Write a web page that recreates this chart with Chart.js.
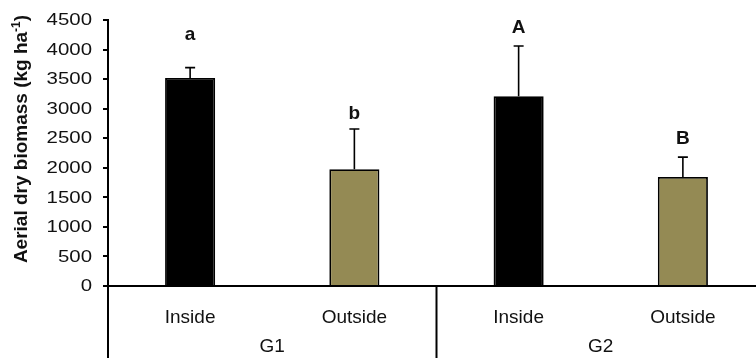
<!DOCTYPE html>
<html>
<head>
<meta charset="utf-8">
<script src="https://cdn.jsdelivr.net/npm/chart.js@4.4.1/dist/chart.umd.min.js"></script>
<style>
  html, body { margin: 0; padding: 0; background: #fff; overflow: hidden; }
  #wrap { position: relative; width: 770px; height: 358px; }
</style>
</head>
<body>
<div id="wrap"><canvas id="c"></canvas></div>
<script>
// Aerial dry biomass, inside vs outside, for two groups
const categories = ['Inside', 'Outside', 'Inside', 'Outside'];
const groups = ['G1', 'G2'];
const biomass = [3520, 1975, 3210, 1845];
const stdErr = [175, 680, 850, 335];
const letters = ['a', 'b', 'A', 'B'];
const letterAt = [4170, 2830, 4285, 2405];   // baseline height of each letter, in kg ha-1
const yTicks = [0, 500, 1000, 1500, 2000, 2500, 3000, 3500, 4000, 4500];

const FONT = '"Liberation Sans", Arial, sans-serif';
const INK = '#111';
const barColors = ['#000000', '#948A54', '#000000', '#948A54'];

const decorations = {
  id: 'decorations',
  afterDatasetsDraw(chart) {
    const ctx = chart.ctx;
    const ys = chart.scales.y;
    const meta = chart.getDatasetMeta(0);
    ctx.save();
    // error bars (upper half only)
    ctx.strokeStyle = '#000';
    ctx.lineWidth = 1.6;
    meta.data.forEach((bar, i) => {
      const yTop = ys.getPixelForValue(biomass[i] + stdErr[i]);
      ctx.beginPath();
      ctx.moveTo(bar.x, bar.y);
      ctx.lineTo(bar.x, yTop);
      ctx.moveTo(bar.x - 5, yTop);
      ctx.lineTo(bar.x + 5, yTop);
      ctx.stroke();
    });
    // significance letters
    ctx.fillStyle = INK;
    ctx.font = 'bold 19px ' + FONT;
    ctx.textAlign = 'center';
    ctx.textBaseline = 'alphabetic';
    meta.data.forEach((bar, i) => {
      ctx.fillText(letters[i], bar.x, ys.getPixelForValue(letterAt[i]));
    });
    ctx.restore();
  },
  afterDraw(chart) {
    const ctx = chart.ctx;
    const xs = chart.scales.x, ys = chart.scales.y;
    const area = chart.chartArea;
    const H = chart.height;
    ctx.save();
    // y tick labels
    ctx.fillStyle = INK;
    ctx.font = '17px ' + FONT;
    ctx.textAlign = 'right';
    ctx.textBaseline = 'middle';
    yTicks.forEach(v => {
      ctx.save();
      ctx.translate(area.left - 16, ys.getPixelForValue(v) + 0.5);
      ctx.scale(1.2, 1);
      ctx.fillText(String(v), 0, 0);
      ctx.restore();
    });
    // lower frame of the two-level category axis
    ctx.strokeStyle = '#000';
    ctx.lineWidth = 2;
    const step = xs.getPixelForValue(1) - xs.getPixelForValue(0);
    const edges = [xs.getPixelForValue(0) - step / 2, xs.getPixelForValue(1) + step / 2, xs.getPixelForValue(3) + step / 2];
    edges.forEach(x => {
      ctx.beginPath();
      ctx.moveTo(x, area.bottom);
      ctx.lineTo(x, H);
      ctx.stroke();
    });
    // group labels
    ctx.font = '19px ' + FONT;
    ctx.textAlign = 'center';
    ctx.textBaseline = 'middle';
    groups.forEach((g, k) => {
      const x = (xs.getPixelForValue(2 * k) + xs.getPixelForValue(2 * k + 1)) / 2;
      ctx.fillText(g, x, 347);
    });
    // y axis title with superscript
    ctx.translate(27, 139);
    ctx.rotate(-Math.PI / 2);
    const main = 'Aerial dry biomass (kg ha';
    const sup = '-1';
    const close = ')';
    ctx.font = 'bold 19px ' + FONT;
    const wMain = ctx.measureText(main).width;
    const wClose = ctx.measureText(close).width;
    ctx.font = 'bold 12px ' + FONT;
    const wSup = ctx.measureText(sup).width;
    let x0 = -(wMain + wSup + wClose) / 2;
    ctx.textAlign = 'left';
    ctx.textBaseline = 'alphabetic';
    ctx.font = 'bold 19px ' + FONT;
    ctx.fillText(main, x0, 0);
    ctx.font = 'bold 12px ' + FONT;
    ctx.fillText(sup, x0 + wMain, -7);
    ctx.font = 'bold 19px ' + FONT;
    ctx.fillText(close, x0 + wMain + wSup, 0);
    ctx.restore();
  }
};

new Chart(document.getElementById('c'), {
  type: 'bar',
  data: {
    labels: categories,
    datasets: [{
      data: biomass,
      backgroundColor: barColors,
      borderColor: '#000',
      borderWidth: 1.8,
      categoryPercentage: 1,
      barPercentage: 0.305
    }]
  },
  options: {
    responsive: true,
    maintainAspectRatio: false,
    animation: false,
    layout: { padding: { top: 20, right: 5, left: 0, bottom: 0 } },
    plugins: { legend: { display: false }, tooltip: { enabled: false } },
    scales: {
      x: {
        grid: { display: false },
        border: { display: true, color: '#000', width: 2 },
        ticks: { color: INK, font: { family: FONT, size: 19 }, padding: 12, maxRotation: 0 },
        afterFit(s) { s.height = 72; }
      },
      y: {
        min: 0, max: 4500,
        ticks: { stepSize: 500, display: false },
        grid: { drawOnChartArea: false, drawTicks: true, tickLength: 5, color: '#000', lineWidth: 2 },
        border: { display: true, color: '#000', width: 2 },
        afterFit(s) { s.width = 108; }
      }
    }
  },
  plugins: [decorations]
});
</script>
</body>
</html>
